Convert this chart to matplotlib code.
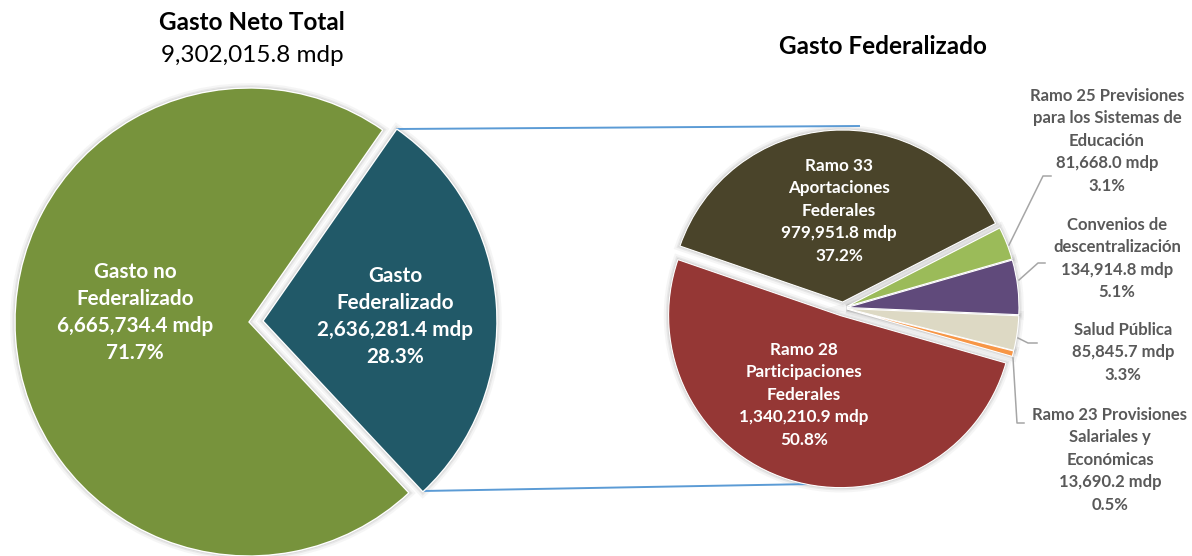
import matplotlib
matplotlib.use("Agg")
import matplotlib.pyplot as plt
from matplotlib.patches import Wedge

plt.rcParams['font.family'] = ['Lato', 'DejaVu Sans']

# ---------------- data ----------------
total_title = "Gasto Neto Total"
total_value = 9302015.8
right_title = "Gasto Federalizado"

left_names = ["Gasto\nFederalizado", "Gasto no\nFederalizado"]
left_values = [2636281.4, 6665734.4]
left_colors = ["#215968", "#77933C"]

right_names = ["Ramo 33\nAportaciones\nFederales",
               "Ramo 25 Previsiones\npara los Sistemas de\nEducación",
               "Convenios de\ndescentralización",
               "Salud Pública",
               "Ramo 23 Provisiones\nSalariales y\nEconómicas",
               "Ramo 28\nParticipaciones\nFederales"]
right_values = [979951.8, 81668.0, 134914.8, 85845.7, 13690.2, 1340210.9]
right_colors = ["#4A442A", "#9BBB59", "#604A7B", "#DDD9C4", "#F79646", "#953735"]

W, H = 1192, 556
fig = plt.figure(figsize=(W / 100, H / 100), dpi=100)
ax = fig.add_axes([0, 0, 1, 1])


def Y(y_img):
    return H - y_img


def fmt(v):
    return f"{v:,.1f} mdp"


def pct(v, tot):
    return f"{100 * v / tot:.1f}%"


def add_shadow(wedges):
    for w in wedges:
        for lw, a in [(7, 0.05), (4, 0.08), (2, 0.10)]:
            s = Wedge(w.center, w.r, w.theta1, w.theta2, facecolor='none',
                      edgecolor=(0.3, 0.3, 0.3, a), linewidth=lw, zorder=0.5)
            ax.add_patch(s)


def draw_lines(x, y_top, lines, spacing, **kw):
    for i, t in enumerate(lines):
        ax.text(x, Y(y_top + i * spacing), t, ha='center', va='center', **kw)


# ---------------- left pie ----------------
lw_, _ = ax.pie(left_values, center=(249, Y(322)), radius=234,
                startangle=-46.9, counterclock=True,
                explode=[14, 0.0], colors=left_colors,
                wedgeprops=dict(edgecolor='white', linewidth=1.0, zorder=1))
add_shadow(lw_)

# ---------------- right pie ----------------
rw_, _ = ax.pie(right_values, center=(843, Y(308)), radius=172,
                startangle=161, counterclock=False,
                explode=[6, 4, 4, 4, 4, 8],
                colors=right_colors,
                wedgeprops=dict(edgecolor='white', linewidth=0.8, zorder=1))
add_shadow(rw_)

# connector lines
ax.plot([397, 859], [Y(129), Y(126)], color="#5B9BD5", lw=1.4, zorder=0.8)
ax.plot([423, 813], [Y(491), Y(484)], color="#5B9BD5", lw=1.4, zorder=0.8)

# leader lines
lc = "#A6A6A6"
ax.plot([1009, 1043, 1051], [Y(245), Y(176), Y(176)], color=lc, lw=1.1, zorder=2)
ax.plot([1019, 1038, 1045], [Y(280), Y(263), Y(263)], color=lc, lw=1.1, zorder=2)
ax.plot([1018, 1028, 1037], [Y(338), Y(343), Y(343)], color=lc, lw=1.1, zorder=2)
ax.plot([1013, 1017, 1024], [Y(358), Y(423), Y(423)], color=lc, lw=1.1, zorder=2)

# ---------------- texts ----------------
ax.text(252, Y(22), total_title, ha='center', va='center', fontsize=17.5,
        fontweight='bold', color='black')
ax.text(252, Y(55), fmt(total_value), ha='center', va='center', fontsize=17.5,
        color='black')
ax.text(883, Y(47), right_title, ha='center', va='center', fontsize=17.5,
        fontweight='bold', color='black')

lt = sum(left_values)
lbl_kw = dict(color='white', fontweight='bold', fontsize=14.9)
draw_lines(135, 272, left_names[1].split("\n") + [fmt(left_values[1]), pct(left_values[1], lt)], 27, **lbl_kw)
draw_lines(395, 276, left_names[0].split("\n") + [fmt(left_values[0]), pct(left_values[0], lt)], 27, **lbl_kw)

rt = sum(right_values)
in_kw = dict(color='white', fontweight='bold', fontsize=12.3)
draw_lines(839, 166, right_names[0].split("\n") + [fmt(right_values[0]), pct(right_values[0], rt)], 22.4, **in_kw)
draw_lines(804, 350, right_names[5].split("\n") + [fmt(right_values[5]), pct(right_values[5], rt)], 22.4, **in_kw)

out_kw = dict(color='#595959', fontweight='bold', fontsize=12.0)
out_pos = {1: (1107, 96), 2: (1117, 225), 3: (1123, 330), 4: (1110, 415)}
for i, (x, y) in out_pos.items():
    draw_lines(x, y, right_names[i].split("\n") + [fmt(right_values[i]), pct(right_values[i], rt)], 22.4, **out_kw)

ax.set_xlim(0, W)
ax.set_ylim(0, H)
ax.set_aspect('equal')
ax.axis('off')
fig.savefig("out.png", dpi=100)
